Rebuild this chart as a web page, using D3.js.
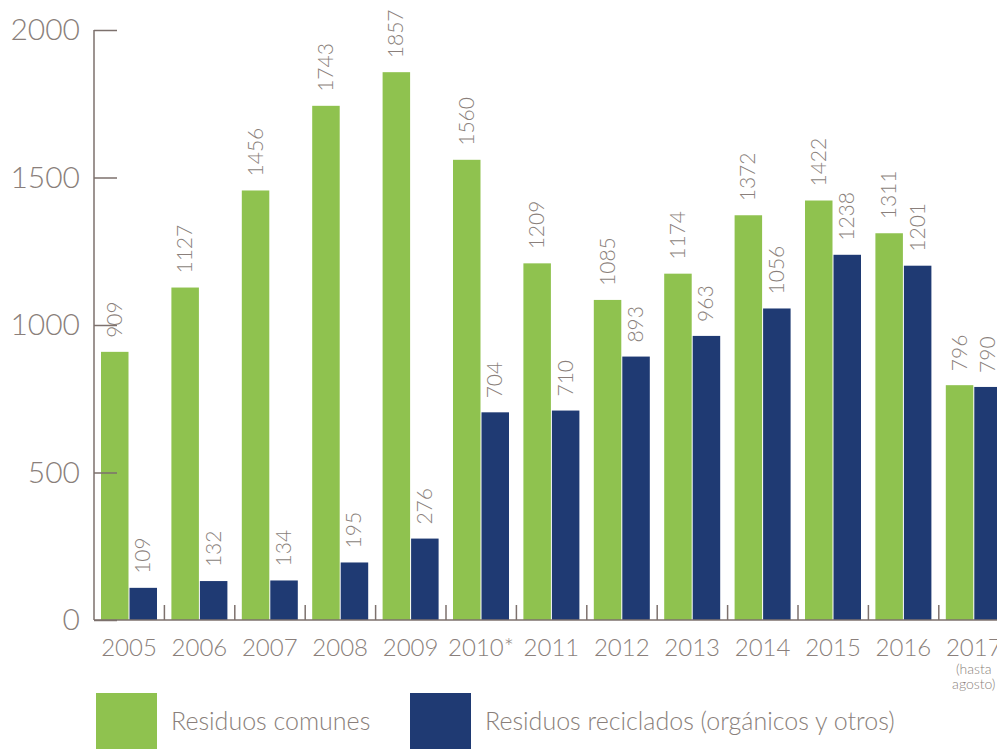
<!DOCTYPE html>
<html>
<head>
<meta charset="utf-8">
<script src="https://cdn.jsdelivr.net/npm/d3@7"></script>
<style>
  body { margin: 0; background: #fff; }
  svg text { font-family: "Lato", "Open Sans", sans-serif; font-weight: 300; fill: #8a7f7b; }
</style>
</head>
<body>
<div id="chart"></div>
<script>
var width = 997;
var height = 749;
var greenColor = '#8fc24f';
var blueColor = '#1f3a73';
var axisColor = '#7d716d';

// data
var years = ['2005', '2006', '2007', '2008', '2009', '2010*', '2011', '2012', '2013', '2014', '2015', '2016', '2017'];
var comunes = [909, 1127, 1456, 1743, 1857, 1560, 1209, 1085, 1174, 1372, 1422, 1311, 796];
var reciclados = [109, 132, 134, 195, 276, 704, 710, 893, 963, 1056, 1238, 1201, 790];
var yTicks = [0, 500, 1000, 1500, 2000];
var seriesNames = ['Residuos comunes', 'Residuos reciclados (orgánicos y otros)'];

var svg = d3.select("#chart")
    .append("svg")
    .attr("width", width)
    .attr("height", height);

var x = d3.scaleBand()
    .domain(years)
    .range([94, 94 + 13 * 70.4]);

var x1 = d3.scaleBand()
    .domain([0, 1])
    .range([7, 7 + 56])
    .paddingInner(0.035);

var y = d3.scaleLinear()
    .domain([0, 2000])
    .range([620, 30]);

// bars
var groups = svg.selectAll("g.year")
    .data(years)
    .enter()
    .append("g")
    .attr("class", "year")
    .attr("transform", d => "translate(" + x(d) + ",0)");

groups.each(function (d, i) {
    var g = d3.select(this);
    var vals = [comunes[i], reciclados[i]];
    vals.forEach(function (v, k) {
        g.append("rect")
            .attr("x", x1(k))
            .attr("y", y(v))
            .attr("width", x1.bandwidth())
            .attr("height", y(0) - y(v))
            .style("fill", k === 0 ? greenColor : blueColor);
        var cx = x1(k) + x1.bandwidth() / 2;
        g.append("text")
            .attr("transform", "translate(" + (cx + 7) + "," + (y(v) - 14) + ") rotate(-90)")
            .style("font-size", "21px")
            .text(v);
    });
});

// y axis
var yAxis = d3.axisRight(y)
    .tickValues(yTicks)
    .tickSize(23)
    .tickFormat("");

var yg = svg.append("g")
    .attr("transform", "translate(94,0)")
    .call(yAxis);
yg.select(".domain").remove();
yg.selectAll(".tick line").style("stroke", axisColor).style("stroke-width", 1.5);

svg.append("line")
    .attr("x1", 94).attr("x2", 94)
    .attr("y1", y(2000)).attr("y2", y(0))
    .style("stroke", axisColor)
    .style("stroke-width", 1.5);

svg.selectAll("text.ylab")
    .data(yTicks)
    .enter()
    .append("text")
    .attr("class", "ylab")
    .attr("x", 80)
    .attr("y", d => y(d) + 10)
    .attr("text-anchor", "end")
    .style("font-size", "30px")
    .text(d => d);

// x axis
svg.append("line")
    .attr("x1", 94).attr("x2", width)
    .attr("y1", y(0)).attr("y2", y(0))
    .style("stroke", axisColor)
    .style("stroke-width", 1.5);

svg.selectAll("line.xtick")
    .data(years.slice(1))
    .enter()
    .append("line")
    .attr("class", "xtick")
    .attr("x1", d => x(d)).attr("x2", d => x(d))
    .attr("y1", y(0)).attr("y2", y(0) - 15)
    .style("stroke", axisColor)
    .style("stroke-width", 1.5);

svg.selectAll("text.xlab")
    .data(years)
    .enter()
    .append("text")
    .attr("class", "xlab")
    .attr("x", d => x(d) + 35)
    .attr("y", 656)
    .attr("text-anchor", "middle")
    .style("font-size", "24px")
    .text(d => d);

var note = svg.append("text")
    .attr("x", x('2017') + 35)
    .attr("text-anchor", "middle")
    .style("font-size", "14px");
note.append("tspan").attr("x", x('2017') + 35).attr("y", 674).text("(hasta");
note.append("tspan").attr("x", x('2017') + 35).attr("y", 689).text("agosto)");

// legend
var legendX = [96, 410];
var legend = svg.selectAll("g.legend")
    .data(seriesNames)
    .enter()
    .append("g")
    .attr("class", "legend")
    .attr("transform", (d, i) => "translate(" + legendX[i] + ",693)");

legend.append("rect")
    .attr("width", 61)
    .attr("height", 60)
    .style("fill", (d, i) => i === 0 ? greenColor : blueColor);

legend.append("text")
    .attr("x", 75)
    .attr("y", 37)
    .style("font-size", "25px")
    .text(d => d);
</script>
</body>
</html>
